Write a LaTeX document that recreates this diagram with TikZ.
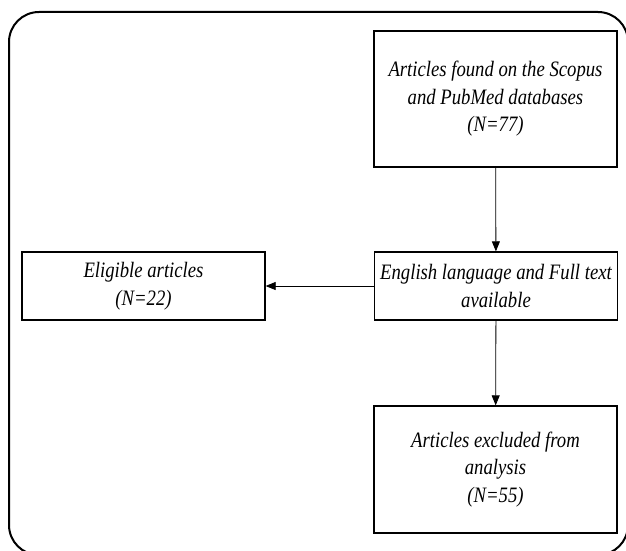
\documentclass[tikz,border=0pt]{standalone}
\usepackage{fontspec}
\setmainfont{Liberation Serif}[FakeStretch=0.85]
\usetikzlibrary{arrows.meta}
\begin{document}
\begin{tikzpicture}[x=1pt,y=-1pt,
  flowbox/.style={draw, line width=1.3pt, minimum width=243pt, align=center, inner sep=2pt, font=\fontsize{22}{27.5}\selectfont\itshape},
  conn/.style={line width=0.8pt, -{Triangle[length=10pt,width=8pt]}}]
\useasboundingbox (0,0) rectangle (626,551);
\draw[line width=2pt, rounded corners=30pt] (9,12) rectangle (628,555);
\node[flowbox, minimum height=136pt] (src) at (495.5,99) {Articles found on the Scopus\\and PubMed databases\\(N=77)};
\node[flowbox, minimum height=68pt] (eng) at (496,286) {English language and Full text\\available};
\node[flowbox, minimum height=68pt, minimum width=243pt] (elig) at (143.5,286) {Eligible articles\\(N=22)};
\node[flowbox, minimum height=127pt] (excl) at (495.5,469.5) {Articles excluded from\\analysis\\(N=55)};
\draw[conn] (src) -- (eng);
\draw[conn] (eng) -- (elig);
\draw[conn] (eng) -- (excl);
\end{tikzpicture}
\end{document}
